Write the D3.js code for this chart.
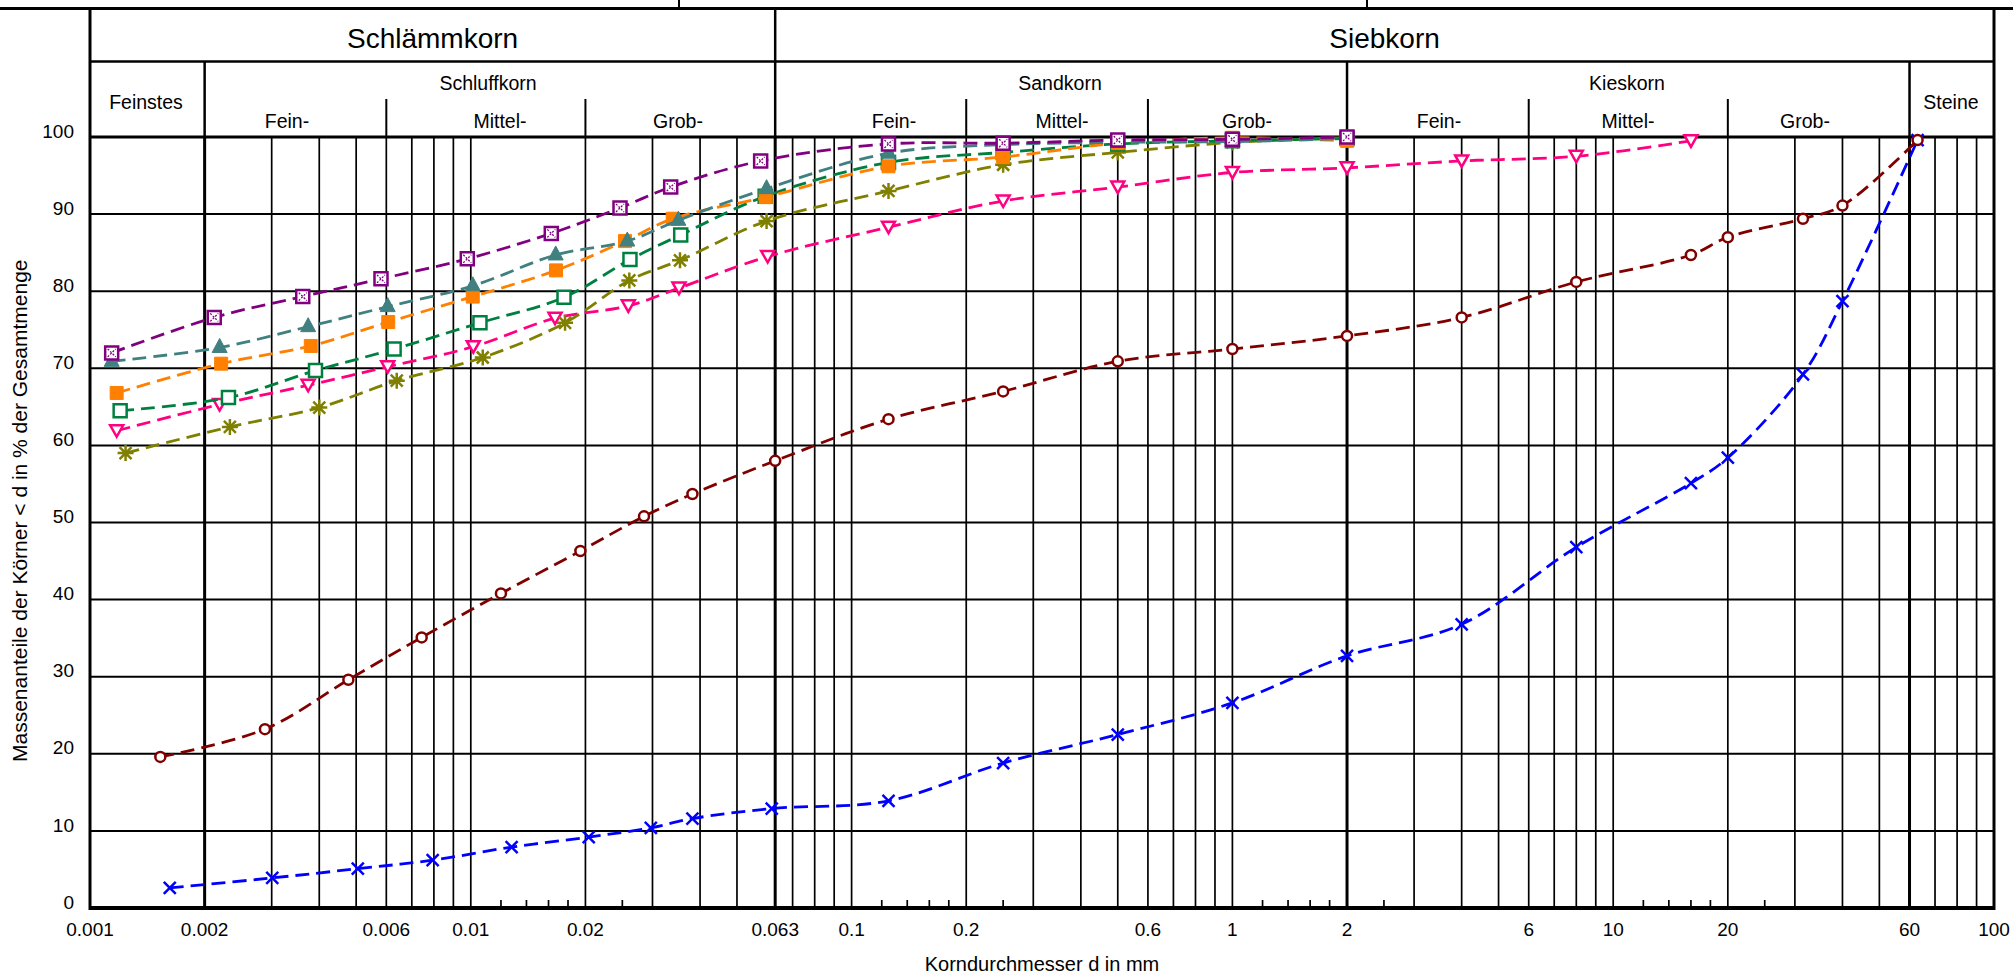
<!DOCTYPE html>
<html>
<head>
<meta charset="utf-8">
<script src="https://cdn.jsdelivr.net/npm/d3@7"></script>
<style>
  body { margin: 0; background: #fff; }
  text { font-family: Arial, "Liberation Sans", sans-serif; fill: #000; }
</style>
</head>
<body>
<div class="chart"></div>
<script>
// canvas
var svgWidth = 2013;
var svgHeight = 975;

// plot box (note: "top" is reserved on window, so use other names)
var plotLeft = 90, plotRight = 1994, plotTop = 137, plotBottom = 908;

// axis values
var yTicks = [0, 10, 20, 30, 40, 50, 60, 70, 80, 90, 100];
var xTickLabels = [0.001, 0.002, 0.006, 0.01, 0.02, 0.063, 0.1, 0.2, 0.6, 1, 2, 6, 10, 20, 60, 100];
var decades = [0.001, 0.01, 0.1, 1, 10];
var gridMultiples = [1, 2, 3, 4, 5, 6, 7, 8, 9];
var minorMultiples = [1.2, 1.4, 1.6, 1.8, 2.5];
var thickLines = [0.002, 0.063, 2, 60];
var groupBounds = [0.002, 2, 60];
var subBounds = [0.006, 0.02, 0.2, 0.6, 6, 20];

// series data (grain size d in mm, passing in %)
var purpleD = [0.00114, 0.00212, 0.00362, 0.00581, 0.00979, 0.01627, 0.02465, 0.03349, 0.0577, 0.125, 0.25, 0.5, 1, 2];
var purpleP = [72.0, 76.6, 79.3, 81.6, 84.2, 87.5, 90.8, 93.5, 96.9, 99.1, 99.2, 99.6, 99.7, 100];

var tealD = [0.00114, 0.00219, 0.00374, 0.00605, 0.01012, 0.01671, 0.02576, 0.03508, 0.0598, 0.125, 0.25, 0.5, 1, 2];
var tealP = [70.9, 72.7, 75.4, 78.0, 80.7, 84.7, 86.5, 89.2, 93.3, 97.9, 99.0, 99.3, 99.4, 99.8];

var orangeD = [0.001175, 0.00221, 0.0038, 0.00607, 0.01012, 0.01674, 0.02541, 0.0339, 0.0595, 0.125, 0.25, 0.5, 1, 2];
var orangeP = [66.8, 70.6, 72.9, 76.0, 79.3, 82.7, 86.5, 89.4, 92.2, 96.2, 97.4, 99.2, 99.9, 99.5];

var greenD = [0.0012, 0.00231, 0.00391, 0.00629, 0.01057, 0.01757, 0.02618, 0.03558, 0.0593, 0.125, 0.25, 0.5, 1, 2];
var greenP = [64.5, 66.2, 69.7, 72.5, 75.9, 79.2, 84.1, 87.3, 92.3, 96.7, 98.0, 99.1, 99.5, 99.8];

var pinkD = [0.001175, 0.00219, 0.00374, 0.00605, 0.01015, 0.01664, 0.02592, 0.03521, 0.0602, 0.125, 0.25, 0.5, 1, 2, 4, 8, 16];
var pinkP = [61.9, 65.3, 67.8, 70.2, 72.8, 76.5, 78.1, 80.4, 84.5, 88.3, 91.7, 93.5, 95.4, 96.0, 96.9, 97.5, 99.5];

var oliveD = [0.00124, 0.00233, 0.0040, 0.00639, 0.01075, 0.01768, 0.02608, 0.03543, 0.0598, 0.125, 0.25, 0.5, 1, 2];
var oliveP = [59.0, 62.4, 64.9, 68.4, 71.4, 75.9, 81.4, 84.0, 89.1, 93.0, 96.4, 98.0, 99.3, 99.9];

var redD = [0.00153, 0.00288, 0.00477, 0.00743, 0.0120, 0.0194, 0.0285, 0.0382, 0.063, 0.125, 0.25, 0.5, 1, 2, 4, 8, 16, 20, 31.5, 40, 63];
var redP = [19.6, 23.2, 29.6, 35.1, 40.8, 46.3, 50.8, 53.7, 58.0, 63.4, 67.0, 70.9, 72.5, 74.2, 76.6, 81.2, 84.7, 87.0, 89.4, 91.1, 99.6];

var blueD = [0.00162, 0.00301, 0.00505, 0.00794, 0.0128, 0.0204, 0.0297, 0.0382, 0.0617, 0.125, 0.25, 0.5, 1, 2, 4, 8, 16, 20, 31.5, 40, 63];
var blueP = [2.6, 3.9, 5.1, 6.2, 7.9, 9.2, 10.4, 11.6, 12.9, 13.9, 18.8, 22.5, 26.6, 32.7, 36.8, 46.8, 55.1, 58.4, 69.2, 78.7, 99.6];

// drawing order: last one on top
var series = [
  { d: blueD, p: blueP, color: "#0000ff", marker: "x" },
  { d: redD, p: redP, color: "#800000", marker: "circle" },
  { d: pinkD, p: pinkP, color: "#ff0080", marker: "triDown" },
  { d: oliveD, p: oliveP, color: "#808000", marker: "asterisk" },
  { d: greenD, p: greenP, color: "#008040", marker: "openSquare" },
  { d: orangeD, p: orangeP, color: "#ff8000", marker: "filledSquare" },
  { d: tealD, p: tealP, color: "#408080", marker: "triUp" },
  { d: purpleD, p: purpleP, color: "#800080", marker: "crossSquare" },
];

var svg = d3
  .select(".chart")
  .append("svg")
  .attr("width", svgWidth)
  .attr("height", svgHeight);

var x = d3.scaleLog().domain([0.001, 100]).range([plotLeft, plotRight]);
var y = d3.scaleLinear().domain([0, 100]).range([plotBottom, plotTop]);

function line(x1, y1, x2, y2, w) {
  svg.append("line")
    .attr("x1", x1).attr("y1", y1).attr("x2", x2).attr("y2", y2)
    .attr("stroke", "#000").attr("stroke-width", w);
}

// grid values - the 0.06 line is drawn at 0.063
var gridValues = [];
decades.forEach(function (dec) {
  gridMultiples.forEach(function (m) {
    var v = m * dec;
    if (dec === 0.01 && m === 6) v = 0.063;
    gridValues.push(v);
  });
});
var minorValues = [];
decades.slice(1).forEach(function (dec) {
  minorMultiples.forEach(function (m) { minorValues.push(m * dec); });
});

// horizontal grid
yTicks.forEach(function (t) {
  line(plotLeft, y(t), plotRight, y(t), 2);
});

// vertical grid
gridValues.forEach(function (v) {
  var thick = thickLines.some(function (t) { return Math.abs(t - v) < 1e-9; });
  line(x(v), plotTop, x(v), plotBottom, thick ? 3 : 1.7);
});
minorValues.forEach(function (v) {
  line(x(v), plotBottom - 8, x(v), plotBottom, 1.7);
});

// header frame
line(0, 8.5, svgWidth, 8.5, 3);
line(679, 0, 679, 8, 2);
line(1367, 0, 1367, 8, 2);
line(plotLeft, 61.5, plotRight, 61.5, 2.5);
line(x(0.063), 8.5, x(0.063), plotTop, 2.5);
groupBounds.forEach(function (v) { line(x(v), 61.5, x(v), plotTop, 2.5); });
subBounds.forEach(function (v) { line(x(v), 99, x(v), plotTop, 2); });

// plot frame
line(plotLeft, plotTop, plotRight, plotTop, 3);
line(plotLeft, plotBottom, plotRight, plotBottom, 4);
line(plotLeft, 8.5, plotLeft, plotBottom + 2, 3);
line(plotRight, 8.5, plotRight, plotBottom + 2, 3);

// header texts
function label(txt, cx, cy, size) {
  svg.append("text")
    .attr("x", cx).attr("y", cy)
    .attr("text-anchor", "middle")
    .attr("dy", "0.35em")
    .style("font-size", size + "px")
    .text(txt);
}
label("Schlämmkorn", (plotLeft + x(0.063)) / 2, 38, 28);
label("Siebkorn", (x(0.063) + plotRight) / 2, 38, 28);
label("Feinstes", 146, 102, 19.5);
label("Schluffkorn", 488, 83, 19.5);
label("Sandkorn", 1060, 83, 19.5);
label("Kieskorn", 1627, 83, 19.5);
label("Steine", 1951, 102, 19.5);
label("Fein-", 287, 121, 19.5);
label("Mittel-", 500, 121, 19.5);
label("Grob-", 678, 121, 19.5);
label("Fein-", 894, 121, 19.5);
label("Mittel-", 1062, 121, 19.5);
label("Grob-", 1247, 121, 19.5);
label("Fein-", 1439, 121, 19.5);
label("Mittel-", 1628, 121, 19.5);
label("Grob-", 1805, 121, 19.5);

// axis labels
yTicks.forEach(function (t) {
  svg.append("text")
    .attr("x", 74).attr("y", y(t) - 6)
    .attr("text-anchor", "end")
    .attr("dy", "0.35em")
    .style("font-size", "19px")
    .text(t);
});
xTickLabels.forEach(function (t) {
  svg.append("text")
    .attr("x", x(t)).attr("y", 929)
    .attr("text-anchor", "middle")
    .attr("dy", "0.35em")
    .style("font-size", "19px")
    .text(String(t));
});

svg.append("text")
  .attr("x", (plotLeft + plotRight) / 2).attr("y", 964)
  .attr("text-anchor", "middle")
  .attr("dy", "0.35em")
  .style("font-size", "20px")
  .text("Korndurchmesser d in mm");

svg.append("text")
  .attr("transform", "translate(27,762) rotate(-90)")
  .attr("text-anchor", "start")
  .style("font-size", "21px")
  .text("Massenanteile der Körner < d in % der Gesamtmenge");

// curves
var curve = d3.line()
  .x(function (d) { return x(d[0]); })
  .y(function (d) { return y(d[1]); })
  .curve(d3.curveCatmullRom.alpha(0.5));

function markerPath(type) {
  var s = 6.5;
  switch (type) {
    case "x": return "M-6,-6L6,6M-6,6L6,-6";
    case "asterisk": return "M-8,0H8M0,-8V8M-6,-6L6,6M-6,6L6,-6";
    case "triUp": return "M0,-9L7.5,5H-7.5Z";
    case "triDown": return "M0,6L-6.5,-5.5H6.5Z";
    case "circle": return "M5,0A5,5 0 1,1 -5,0A5,5 0 1,1 5,0Z";
    default: return "M-" + s + ",-" + s + "h" + 2 * s + "v" + 2 * s + "h-" + 2 * s + "Z";
  }
}

series.forEach(function (s) {
  var pts = s.d.map(function (d, i) { return [d, s.p[i]]; });
  var g = svg.append("g");

  g.append("path")
    .datum(pts)
    .attr("d", curve)
    .attr("fill", "none")
    .attr("stroke", s.color)
    .attr("stroke-width", 2.8)
    .attr("stroke-dasharray", "14,7");

  var filled = s.marker === "triUp" || s.marker === "filledSquare";
  var m = g.selectAll(".m")
    .data(pts)
    .enter()
    .append("g")
    .attr("transform", function (d) { return "translate(" + x(d[0]) + "," + y(d[1]) + ")"; });

  m.append("path")
    .attr("d", markerPath(s.marker))
    .attr("fill", filled ? s.color : (s.marker === "x" || s.marker === "asterisk" ? "none" : "#fff"))
    .attr("stroke", s.color)
    .attr("stroke-width", filled ? 1 : 2.5);

  if (s.marker === "crossSquare") {
    m.append("path")
      .attr("d", "M-4,-4L4,4M-4,4L4,-4")
      .attr("stroke", s.color)
      .attr("stroke-width", 1.3)
      .attr("stroke-dasharray", "2,1.5");
  }
});
</script>
</body>
</html>
